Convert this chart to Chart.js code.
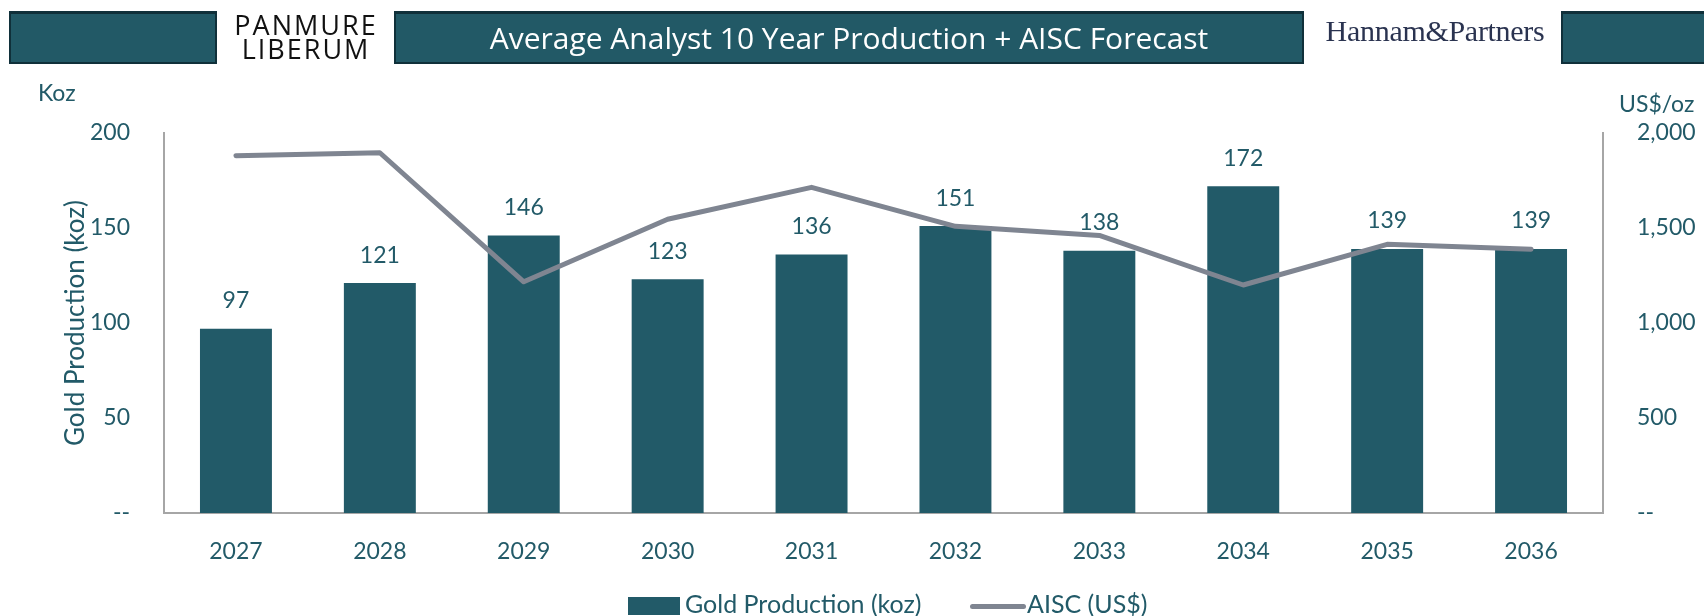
<!DOCTYPE html>
<html>
<head>
<meta charset="utf-8">
<script src="https://cdn.jsdelivr.net/npm/chart.js@4/dist/chart.umd.min.js"></script>
<style>
	html, body { margin: 0; padding: 0; background: #fff; }
	body { width: 1704px; height: 616px; position: relative; overflow: hidden; font-family: 'Lato', 'Noto Sans', sans-serif; }
	#chart { position: absolute; left: 0; top: 0; }
	.band { position: absolute; top: 11px; height: 48px; background: #225966; border: 2px solid #10303a; border-top-width: 3px; }
	.title { color: #fff; font-family: 'Open Sans', sans-serif; font-size: 30px; line-height: 48px; text-align: center; }
	.logo-pl { position: absolute; left: 226px; width: 160px; top: 13px; text-align: center; font-family: 'Open Sans', sans-serif; font-size: 27px; line-height: 24px; letter-spacing: 2px; color: #111; }
	.logo-hp { position: absolute; left: 1310px; width: 250px; top: 14px; text-align: center; font-family: 'Liberation Serif', serif; font-size: 30px; color: #2a3350; letter-spacing: -0.3px; }
	.unit { position: absolute; color: #225a68; font-size: 23px; }
	.legend { position: absolute; top: 596px; left: 0; width: 1704px; height: 20px; font-size: 25px; color: #225a68; }
	.legend span { position: absolute; white-space: nowrap; }
</style>
</head>
<body>
<canvas id="chart" width="1704" height="616"></canvas>

<div class="band" style="left:9px;width:204px;"></div>
<div class="logo-pl">PANMURE<br>LIBERUM</div>
<div class="band title" style="left:394px;width:906px;">Average Analyst 10 Year Production + AISC Forecast</div>
<div class="logo-hp">Hannam&amp;Partners</div>
<div class="band" style="left:1561px;width:150px;"></div>

<div class="unit" style="left:38px;top:78px;">Koz</div>
<div class="unit" style="left:1619px;top:89px;">US$/oz</div>

<div class="legend">
	<span style="left:628px;top:1px;width:52px;height:18px;background:#225a68;"></span>
	<span style="left:685px;top:-8px;">Gold Production (koz)</span>
	<span style="left:970px;top:8px;width:56px;height:5px;border-radius:3px;background:#7f8591;"></span>
	<span style="left:1027px;top:-8px;">AISC (US$)</span>
</div>

<script>
const years = ['2027', '2028', '2029', '2030', '2031', '2032', '2033', '2034', '2035', '2036'];
const goldProduction = [97, 121, 146, 123, 136, 151, 138, 172, 139, 139];
const aisc = [1880, 1896, 1217, 1546, 1714, 1509, 1461, 1200, 1414, 1388];

const teal = '#225a68';
const lineGrey = '#7f8591';
const axisGrey = '#a6a6a6';
const tickFont = { family: 'Lato', size: 23 };

// numbers above the bars
const barLabels = {
	id: 'barLabels',
	afterDatasetsDraw(chart) {
		const meta = chart.getDatasetMeta(1);
		const ctx = chart.ctx;
		ctx.save();
		ctx.fillStyle = teal;
		ctx.font = '23px Lato';
		ctx.textAlign = 'center';
		ctx.textBaseline = 'middle';
		meta.data.forEach((bar, i) => {
			ctx.fillText(String(goldProduction[i]), bar.x, bar.y - 28);
		});
		ctx.restore();
	},
};

const fmt = (v) => v === 0 ? '--' : v.toLocaleString('en-US');

new Chart(document.getElementById('chart'), {
	data: {
		labels: years,
		datasets: [
			{
				type: 'line',
				label: 'AISC (US$)',
				data: aisc,
				yAxisID: 'y1',
				borderColor: lineGrey,
				borderWidth: 5,
				pointRadius: 0,
				tension: 0,
				borderCapStyle: 'round',
				borderJoinStyle: 'round',
				order: 0,
			},
			{
				type: 'bar',
				label: 'Gold Production (koz)',
				data: goldProduction,
				yAxisID: 'y',
				backgroundColor: teal,
				barPercentage: 0.5,
				categoryPercentage: 1,
				order: 1,
			},
		],
	},
	options: {
		responsive: false,
		animation: false,
		layout: { padding: { top: 133, left: 0, right: 0, bottom: 0 } },
		plugins: { legend: { display: false }, tooltip: { enabled: false } },
		scales: {
			x: {
				grid: { display: false },
				border: { color: axisGrey, width: 2 },
				ticks: { color: teal, font: tickFont, padding: 17 },
				afterFit(scale) { scale.height = 103; },
			},
			y: {
				position: 'left',
				min: 0, max: 200,
				grid: { display: false },
				border: { color: axisGrey, width: 2 },
				ticks: { stepSize: 50, color: teal, font: tickFont, padding: 26, callback: fmt },
				title: { display: true, text: 'Gold Production (koz)', color: teal, font: { family: 'Lato', size: 26 }, padding: { top: 60, bottom: 0 } },
				afterFit(scale) { scale.width = 164; },
			},
			y1: {
				position: 'right',
				min: 0, max: 2000,
				grid: { display: false },
				border: { color: axisGrey, width: 2 },
				ticks: { stepSize: 500, color: teal, font: tickFont, padding: 26, callback: fmt },
				afterFit(scale) { scale.width = 101; },
			},
		},
	},
	plugins: [barLabels],
});
</script>
</body>
</html>
